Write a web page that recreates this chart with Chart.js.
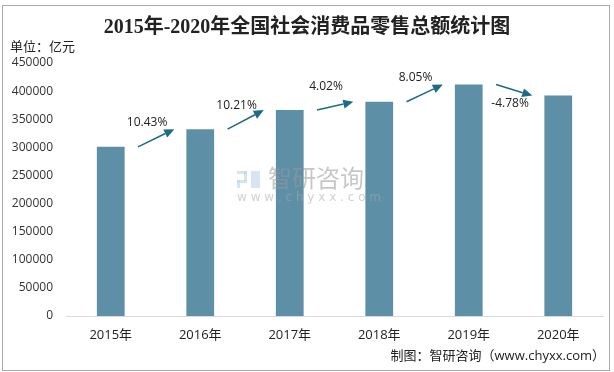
<!DOCTYPE html>
<html>
<head>
<meta charset="utf-8">
<script src="https://cdn.jsdelivr.net/npm/chart.js@4"></script>
<style>
  html, body { margin: 0; padding: 0; background: #fff; }
  #wrap { width: 614px; height: 372px; position: relative; }
</style>
</head>
<body>
<div id="wrap"><canvas id="c" width="614" height="372"></canvas></div>
<script>
const years = ['2015年', '2016年', '2017年', '2018年', '2019年', '2020年'];
const sales = [300931, 332316, 366262, 380987, 411649, 391981];
const growth = ['10.43%', '10.21%', '4.02%', '8.05%', '-4.78%'];
const yTicks = [0, 50000, 100000, 150000, 200000, 250000, 300000, 350000, 400000, 450000];

const sansFont = '"Open Sans", "Noto Sans CJK SC", sans-serif';

// frame, title, unit, source, watermark
const textPlugin = {
  id: 'texts',
  beforeDraw(chart) {
    const ctx = chart.ctx;
    ctx.save();
    ctx.fillStyle = '#fff';
    ctx.fillRect(0, 0, chart.width, chart.height);
    ctx.strokeStyle = '#aaaaaa';
    ctx.lineWidth = 1;
    ctx.strokeRect(2.5, 5.5, 607, 365);

    ctx.fillStyle = '#222';
    ctx.textAlign = 'center';
    ctx.textBaseline = 'middle';
    ctx.font = 'bold 20px "Liberation Serif", "Noto Sans CJK SC", serif';
    ctx.fillText('2015年-2020年全国社会消费品零售总额统计图', 307, 28);

    ctx.textAlign = 'left';
    ctx.font = '13px "Noto Sans CJK SC", sans-serif';
    ctx.fillText('单位：亿元', 10, 46);

    ctx.textAlign = 'right';
    ctx.font = '13px ' + sansFont;
    ctx.fillText('制图：智研咨询（www.chyxx.com）', 605, 356);
    ctx.restore();
  },
  afterDatasetsDraw(chart) {
    const ctx = chart.ctx;
    const xs = chart.scales.x, ys = chart.scales.y;
    ctx.save();
    // watermark
    ctx.globalAlpha = 0.55;
    ctx.fillStyle = '#b7cde6';
    ctx.fillRect(237, 171, 10, 3);
    ctx.fillRect(244, 171, 3, 10);
    ctx.fillRect(237, 180, 10, 3);
    ctx.fillRect(237, 180, 3, 8);
    ctx.fillRect(251, 171, 9, 17);
    ctx.fillStyle = '#999';
    ctx.font = '24px "Noto Sans CJK SC", sans-serif';
    ctx.textAlign = 'left';
    ctx.textBaseline = 'middle';
    ctx.fillText('智研咨询', 268, 178);
    ctx.font = '12px "DejaVu Sans", sans-serif';
    ctx.fillStyle = '#aaa';
    ctx.fillText('w w w . c h y x x . c o m', 237, 198);
    ctx.globalAlpha = 1;

    // growth arrows
    const color = '#1d6b89';
    ctx.strokeStyle = color;
    ctx.fillStyle = color;
    ctx.lineWidth = 1.5;
    const step = xs.getPixelForValue(1) - xs.getPixelForValue(0);
    for (let i = 0; i < growth.length; i++) {
      const x0 = xs.getPixelForValue(i) + step * 0.305;
      const x1 = xs.getPixelForValue(i + 1) - step * 0.29;
      const y0 = ys.getPixelForValue(sales[i]);
      const y1 = ys.getPixelForValue(sales[i + 1]);
      const ang = Math.atan2(y1 - y0, x1 - x0);
      const hl = 10, hw = 4.5;
      const bx = x1 - hl * Math.cos(ang), by = y1 - hl * Math.sin(ang);
      ctx.beginPath();
      ctx.moveTo(x0, y0);
      ctx.lineTo(bx, by);
      ctx.stroke();
      ctx.beginPath();
      ctx.moveTo(x1, y1);
      ctx.lineTo(bx + hw * Math.sin(ang), by - hw * Math.cos(ang));
      ctx.lineTo(bx - hw * Math.sin(ang), by + hw * Math.cos(ang));
      ctx.closePath();
      ctx.fill();

      ctx.save();
      ctx.fillStyle = '#222';
      ctx.font = '12px ' + sansFont;
      ctx.textAlign = 'center';
      ctx.textBaseline = 'middle';
      if (growth[i].startsWith('-')) {
        ctx.fillText(growth[i], x0 + 14, y1 + 8);
      } else {
        ctx.fillText(growth[i], x0 + 9, y0 - 24);
      }
      ctx.restore();
    }
    ctx.restore();
  }
};

new Chart(document.getElementById('c'), {
  type: 'bar',
  data: {
    labels: years,
    datasets: [{
      data: sales,
      backgroundColor: '#5d8fa6',
      categoryPercentage: 1,
      barPercentage: 0.31
    }]
  },
  options: {
    responsive: false,
    animation: false,
    layout: { padding: { left: 10, right: 11, top: 63, bottom: 0 } },
    plugins: { legend: { display: false }, tooltip: { enabled: false } },
    scales: {
      x: {
        grid: { display: false, drawTicks: false },
        border: { color: '#d9d9d9', width: 1 },
        ticks: { color: '#222', font: { size: 13, family: sansFont }, padding: 11 },
        afterFit(s) { s.height = 56; }
      },
      y: {
        min: 0,
        max: 450000,
        afterBuildTicks(s) { s.ticks = yTicks.map(v => ({ value: v })); },
        grid: { display: false, drawTicks: false },
        border: { display: false },
        ticks: {
          color: '#333',
          font: { size: 12, family: sansFont },
          padding: 13,
          callback: v => String(v)
        },
        afterFit(s) { s.width = 56; }
      }
    }
  },
  plugins: [textPlugin]
});
</script>
</body>
</html>
